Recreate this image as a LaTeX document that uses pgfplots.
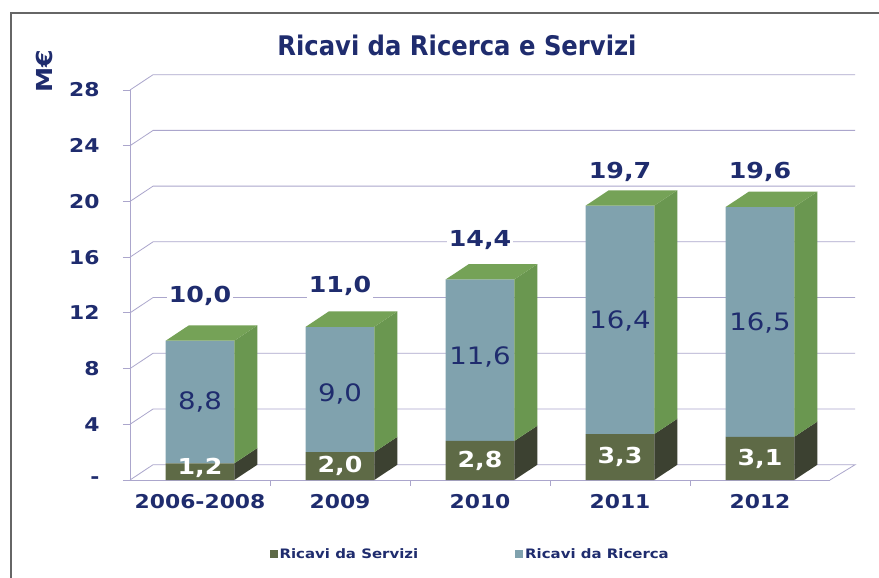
\documentclass[border=0pt]{standalone}
\usepackage{fontspec}
\setmainfont{DejaVu Sans}[FakeStretch=1.15]
\newfontfamily\condfont{DejaVu Sans Condensed}
\usepackage{pgfplots}
\pgfplotsset{compat=1.18}
\usepackage{pgfplotstable}

\definecolor{navy}{HTML}{1F2C6E}
\definecolor{gridc}{HTML}{ABA6CC}
\definecolor{servF}{HTML}{5E6A46}
\definecolor{servS}{HTML}{3C4131}
\definecolor{ricF}{HTML}{80A2AE}
\definecolor{ricS}{HTML}{6A9750}
\definecolor{topc}{HTML}{75A257}

\pgfplotstableread{
x serv ric
0 1.2 8.8
1 2.0 9.0
2 2.8 11.6
3 3.3 16.4
4 3.1 16.5
}\data

\pgfplotstableread{
x sy sl ry rl ty tl
0 0.9 1,2 5.6 8,8 13.2 10,0
1 1.0 2,0 6.2 9,0 13.9 11,0
2 1.4 2,8 8.8 11,6 17.2 14,4
3 1.65 3,3 11.4 16,4 22.1 19,7
4 1.55 3,1 11.3 16,5 22.1 19,6
}\labels

\pgfplotsset{
  base/.style={scale only axis, width=700bp, height=390bp,
    xmin=-0.5, xmax=4.5, ymin=0, ymax=28,
    at={(130bp,98bp)}, anchor=south west, clip=false},
}

\begin{document}
\begin{tikzpicture}
\useasboundingbox (0,0) rectangle (879bp,578bp);
\fill[white] (0,0) rectangle (879bp,578bp);
\draw[gray!80!black, line width=1.5bp] (11bp,-5bp) -- (11bp,565bp) -- (885bp,565bp);
\node[font=\condfont\bfseries\fontsize{27bp}{30bp}\selectfont, text=navy] at (457bp,533bp) {Ricavi da Ricerca e Servizi};
\node[font=\bfseries\fontsize{22bp}{24bp}\selectfont, text=navy, rotate=90] at (44bp,507bp) {M€};

% axis 1: axes, ticks, back grid, floor
\begin{axis}[base,
  axis x line*=bottom, axis y line*=left,
  axis line style={gridc, line width=0.8bp},
  ytick={0,4,...,28}, yticklabels={-,4,8,12,16,20,24,28},
  xtick={0,1,2,3,4}, xticklabels={2006-2008,2009,2010,2011,2012},
  minor xtick={0.5,1.5,2.5,3.5},
  tick align=outside, major tick length=7bp, minor tick length=6bp,
  x tick style={draw=none}, minor x tick style={draw=gridc},
  y tick style={gridc, line width=0.8bp},
  tick label style={font=\bfseries\fontsize{19bp}{21bp}\selectfont, text=navy},
  yticklabel style={xshift=-20bp},
  xticklabel style={yshift=-4bp},
]
\addplot[gridc, line width=0.8bp] table[x=x,y=y] {
x y
-0.5 0
-0.335 1.1
4.68 1.1
4.5 0

-0.5 4
-0.335 5.1
4.68 5.1

-0.5 8
-0.335 9.1
4.68 9.1

-0.5 12
-0.335 13.1
4.68 13.1

-0.5 16
-0.335 17.1
4.68 17.1

-0.5 20
-0.335 21.1
4.68 21.1

-0.5 24
-0.335 25.1
4.68 25.1

-0.5 28
-0.335 29.1
4.68 29.1
};
\end{axis}

% axis 2: stacked bars
\begin{axis}[base, hide axis, ybar stacked, bar width=0.49,
  legend columns=2,
  legend style={draw=none, fill=none, at={(0.486,-0.19)}, anchor=center,
    font=\bfseries\fontsize{13bp}{15bp}\selectfont, text=navy,
    /tikz/every even column/.append style={column sep=95bp}},
  legend image code/.code={\fill[#1] (0bp,-4bp) rectangle (8bp,4bp);},
]
\addplot[fill=servF, draw=none] table[x=x, y=serv] {\data};
\addlegendentry{Ricavi da Servizi}
\addplot[fill=ricF, draw=none] table[x=x, y=ric] {\data};
\addlegendentry{Ricavi da Ricerca}
\end{axis}

% axis 3: 3D faces and labels
\begin{axis}[base, hide axis]
% side faces of Servizi
\addplot[fill=servS, draw=none] table[x=x,y=y] {
x y
0.245 0
0.41 1.1
0.41 2.3
0.245 1.2

1.245 0
1.41 1.1
1.41 3.1
1.245 2.0

2.245 0
2.41 1.1
2.41 3.9
2.245 2.8

3.245 0
3.41 1.1
3.41 4.4
3.245 3.3

4.245 0
4.41 1.1
4.41 4.2
4.245 3.1
};
% side faces of Ricerca
\addplot[fill=ricS, draw=none] table[x=x,y=y] {
x y
0.245 1.2
0.41 2.3
0.41 11.1
0.245 10.0

1.245 2.0
1.41 3.1
1.41 12.1
1.245 11.0

2.245 2.8
2.41 3.9
2.41 15.5
2.245 14.4

3.245 3.3
3.41 4.4
3.41 20.8
3.245 19.7

4.245 3.1
4.41 4.2
4.41 20.7
4.245 19.6
};
% top faces
\addplot[fill=topc, draw=none] table[x=x,y=y] {
x y
-0.245 10.0
0.245 10.0
0.41 11.1
-0.08 11.1

0.755 11.0
1.245 11.0
1.41 12.1
0.92 12.1

1.755 14.4
2.245 14.4
2.41 15.5
1.92 15.5

2.755 19.7
3.245 19.7
3.41 20.8
2.92 20.8

3.755 19.6
4.245 19.6
4.41 20.7
3.92 20.7
};
% labels
\addplot[only marks, mark=none, point meta=explicit symbolic, nodes near coords,
  every node near coord/.append style={anchor=center, text=white,
    font=\bfseries\fontsize{22bp}{24bp}\selectfont}]
  table[x=x, y=sy, meta=sl] {\labels};
\addplot[only marks, mark=none, point meta=explicit symbolic, nodes near coords,
  every node near coord/.append style={anchor=center, text=navy,
    font=\fontsize{24bp}{26bp}\selectfont}]
  table[x=x, y=ry, meta=rl] {\labels};
\addplot[only marks, mark=none, point meta=explicit symbolic, nodes near coords,
  every node near coord/.append style={anchor=center, text=navy, fill=white,
    inner sep=2bp, font=\bfseries\fontsize{22bp}{24bp}\selectfont}]
  table[x=x, y=ty, meta=tl] {\labels};
\end{axis}
\end{tikzpicture}
\end{document}
